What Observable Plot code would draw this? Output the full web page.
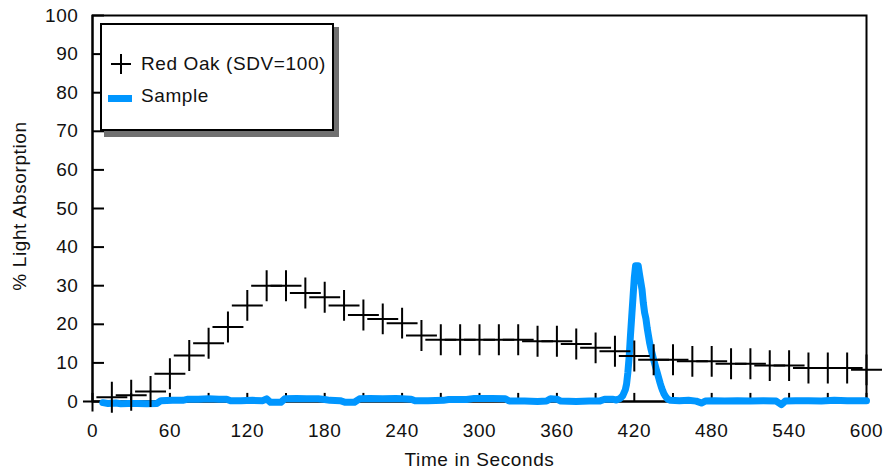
<!DOCTYPE html>
<html><head><meta charset="utf-8">
<script src="https://cdn.jsdelivr.net/npm/d3@7"></script>
<script src="https://cdn.jsdelivr.net/npm/@observablehq/plot@0.6"></script>
<style>
body{margin:0;background:#fff;}
#wrap{position:relative;width:887px;height:472px;}
#legend{position:absolute;left:0;top:0;pointer-events:none;}
</style></head><body>
<div id="wrap"></div>
<script>
const seriesNames = ["Red Oak (SDV=100)", "Sample"];
const xTitle = "Time in Seconds";
const yTitle = "% Light Absorption";

const oakTime = [15,30,45,60,75,90,105,120,135,150,165,180,195,210,225,240,255,270,285,300,315,330,345,360,375,390,405,420,435,450,465,480,495,510,525,540,555,570,585,600];
const oakValue = [1.1,1.6,2.6,7.2,11.9,15.1,19.3,24.9,30,30,28.1,27,24.9,22.4,21.4,20.3,17.1,16,16,16,16,16,15.6,15.6,14.9,13.9,13,11.8,10.8,10.8,10.4,10.4,9.8,9.8,9.3,9.3,8.7,8.7,8.7,8.2];

const sampleTime = [8,12,18,22,28,35,42,50,53,62,70,74,82,90,98,104,107,115,124,132,135,138,146,149,158,166,175,180,184,192,196,203,207,215,225,235,240,247,250,260,272,276,290,296,310,320,323,335,345,352,355,360,363,375,385,393,397,403,406,409,411,413,414,415,416,417,418,419,420,421,423,424,425,426,427,428,429,430,431,432,433,434,435,436,437,438,439,440,441,442,443,444,445,446,448,455,462,468,472,475,482,490,500,510,520,530,534,537,545,555,565,575,585,595,600];
const sampleValue = [-0.3,-0.5,-0.4,-0.6,-0.5,-0.5,-0.6,-0.5,0.2,0.3,0.3,0.6,0.6,0.7,0.6,0.6,0.2,0.2,0.3,0.2,0.7,-0.2,-0.2,0.7,0.8,0.7,0.7,0.5,0.3,0.2,-0.2,-0.2,0.7,0.8,0.7,0.8,0.7,0.6,0.2,0.2,0.3,0.5,0.5,0.8,0.8,0.7,0.1,0.1,0.0,0.1,0.7,0.6,0.1,0.0,0.1,0.1,0.6,0.6,0.4,0.8,1.5,3,4.5,7.5,11.5,17,22,27,32,35.2,35.2,33,31,29,25.5,23,21.5,19,17,15,13.5,12.2,10.8,9.6,8.4,7.2,6,4.8,3.7,2.8,2,1.4,1,0.6,0.3,0.2,0.3,0.1,-0.4,0.1,0.2,0.1,0.2,0.1,0.2,0.1,-0.8,0.1,0.2,0.2,0.1,0.3,0.2,0.2,0.2];

const xMinorTicks = [0,30,60,90,120,150,180,210,240,270,300,330,360,390,420,450,480,510,540,570,600];
const xTickLabels = [0,60,120,180,240,300,360,420,480,540,600];
const yTickLabels = [0,10,20,30,40,50,60,70,80,90,100];

const oak = oakTime.map((t, i) => ({t, v: oakValue[i]}));
const sample = sampleTime.map((t, i) => ({t, v: sampleValue[i]}));

const FONT = "'Liberation Sans', Arial, Helvetica, sans-serif";
const BLUE = "#0096ff";

const chart = Plot.plot({
  width: 887, height: 472,
  marginLeft: 92, marginRight: 21, marginTop: 15, marginBottom: 71,
  x: {domain: [0, 600]},
  y: {domain: [0, 100]},
  style: {fontFamily: FONT, fontSize: "19px", color: "#111", background: "white", letterSpacing: "0.6px"},
  marks: [
    Plot.ruleX(xMinorTicks, {x: d => d, y1: 0, y2: 2.1, stroke: "black", strokeWidth: 2}),
    Plot.ruleY(yTickLabels, {y: d => d, x1: 0, x2: 9.3, stroke: "black", strokeWidth: 2}),
    Plot.ruleY([0], {x1: -7, x2: 600, stroke: "black", strokeWidth: 2}),
    Plot.ruleX([0], {y1: -2.7, y2: 100, stroke: "black", strokeWidth: 2}),
    Plot.frame({stroke: "black", strokeWidth: 2}),
    Plot.axisX(xTickLabels, {tickSize: 0, tickPadding: 22, fontSize: 19, label: null}),
    Plot.axisY(yTickLabels, {tickSize: 0, tickPadding: 14, fontSize: 19, label: null}),
    Plot.text([xTitle], {text: d => d, frameAnchor: "bottom", textAnchor: "middle", lineAnchor: "top", dy: 51, fontSize: 19}),
    Plot.text([yTitle], {text: d => d, frameAnchor: "left", textAnchor: "middle", lineAnchor: "middle", rotate: -90, dx: -72.5, dy: -2.5, fontSize: 19}),
    Plot.line(sample, {x: "t", y: "v", stroke: BLUE, strokeWidth: 7, strokeLinejoin: "round"}),
    Plot.dot(oak, {x: "t", y: "v", symbol: "plus", r: 10, stroke: "black", fill: "none", strokeWidth: 2})
  ]
});
const wrap = document.getElementById("wrap");
wrap.appendChild(chart);

// legend overlay
const svg = d3.select(wrap).append("svg").attr("id", "legend").attr("width", 887).attr("height", 472)
  .style("font-family", FONT).style("font-size", "19px").style("letter-spacing", "0.6px");
svg.append("rect").attr("x", 104).attr("y", 27).attr("width", 235).attr("height", 110).attr("fill", "#707070");
svg.append("rect").attr("x", 101).attr("y", 24).attr("width", 232).attr("height", 106).attr("fill", "white").attr("stroke", "black").attr("stroke-width", 2);
svg.append("path").attr("d", "M111,64H131M121,54V74").attr("stroke", "black").attr("stroke-width", 2);
svg.append("text").attr("x", 141).attr("y", 70).attr("fill", "#111").text(seriesNames[0]);
svg.append("rect").attr("x", 108).attr("y", 95).attr("width", 24).attr("height", 7).attr("fill", BLUE);
svg.append("text").attr("x", 141).attr("y", 102).attr("fill", "#111").text(seriesNames[1]);
</script>
</body></html>
